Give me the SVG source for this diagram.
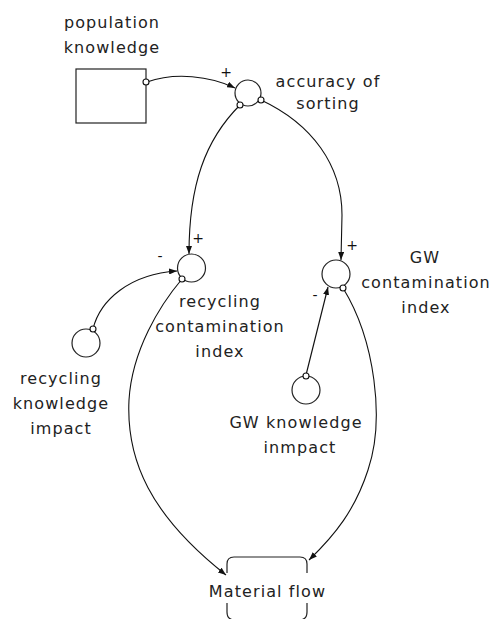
<svg xmlns="http://www.w3.org/2000/svg" width="495" height="619" viewBox="0 0 495 619">
  <defs>
    <marker id="arrow" viewBox="0 0 8 6" refX="8" refY="3" markerWidth="8" markerHeight="6" markerUnits="userSpaceOnUse" orient="auto">
      <path d="M0,0 L8,3 L0,6 z" fill="#111"/>
    </marker>
  </defs>
  <style>
    .lbl { font-family: "DejaVu Sans", "Liberation Sans", sans-serif; font-size: 16px; letter-spacing: 1.1px; fill: #222; text-anchor: middle; }
    .sign { font-family: "DejaVu Sans", "Liberation Sans", sans-serif; font-size: 14px; fill: #111; text-anchor: middle; }
    .shape { fill: #fff; stroke: #222; stroke-width: 1.2; }
    .link { fill: none; stroke: #111; stroke-width: 1.1; marker-end: url(#arrow); }
    .tap { fill: #fff; stroke: #111; stroke-width: 1.1; }
  </style>
  <rect width="495" height="619" fill="#fff"/>

  <!-- causal links -->
  <g id="connectors">
    <path class="link" d="M147,82 C175,72 210,76 235,88"/>
    <path class="link" d="M240,105 C205,140 189,185 189,254"/>
    <path class="link" d="M261,100 C312,124 342,165 342,215 L341,260"/>
    <path class="link" d="M93,329 C100,300 130,274 177,271"/>
    <path class="link" d="M306,375 L328,287"/>
    <path class="link" d="M182,279 C160,305 132,350 129,400 C126,460 150,515 226,575"/>
    <path class="link" d="M343,288 C375,340 385,420 368,470 C355,510 335,535 309,560"/>
    <text class="sign" x="226" y="77">+</text>
    <text class="sign" x="198" y="243">+</text>
    <text class="sign" x="160" y="261">-</text>
    <text class="sign" x="352" y="250">+</text>
    <text class="sign" x="315" y="300">-</text>
  </g>

  <g id="population-knowledge">
    <rect class="shape" x="76" y="69" width="70" height="54"/>
    <circle class="tap" cx="146" cy="82" r="3"/>
    <text class="lbl" x="112" y="28">population</text>
    <text class="lbl" x="112" y="53">knowledge</text>
  </g>

  <g id="accuracy-of-sorting">
    <circle class="shape" cx="248" cy="93" r="13"/>
    <circle class="tap" cx="240" cy="105" r="3"/>
    <circle class="tap" cx="261" cy="100" r="3"/>
    <text class="lbl" x="328" y="87">accuracy of</text>
    <text class="lbl" x="328" y="109">sorting</text>
  </g>

  <g id="recycling-contamination-index">
    <circle class="shape" cx="191.5" cy="268" r="14"/>
    <circle class="tap" cx="182" cy="279" r="3"/>
    <text class="lbl" x="220" y="307">recycling</text>
    <text class="lbl" x="220" y="332">contamination</text>
    <text class="lbl" x="220" y="357">index</text>
  </g>

  <g id="gw-contamination-index">
    <circle class="shape" cx="336" cy="274" r="14"/>
    <circle class="tap" cx="343" cy="288" r="3"/>
    <text class="lbl" x="425" y="263">GW</text>
    <text class="lbl" x="426" y="288">contamination</text>
    <text class="lbl" x="426" y="313">index</text>
  </g>

  <g id="recycling-knowledge-impact">
    <circle class="shape" cx="86" cy="343" r="14"/>
    <circle class="tap" cx="93" cy="329" r="3"/>
    <text class="lbl" x="61" y="384">recycling</text>
    <text class="lbl" x="61" y="409">knowledge</text>
    <text class="lbl" x="61" y="434">impact</text>
  </g>

  <g id="gw-knowledge-impact">
    <circle class="shape" cx="306" cy="390" r="14"/>
    <circle class="tap" cx="306" cy="376" r="3"/>
    <text class="lbl" x="296" y="428">GW knowledge</text>
    <text class="lbl" x="300" y="453">inmpact</text>
  </g>

  <g id="material-flow">
    <path fill="none" stroke="#222" stroke-width="1.2" d="M227,573 L227,564 Q227,557 234,557 L300,557 Q307,557 307,564 L307,573"/>
    <path fill="none" stroke="#222" stroke-width="1.2" d="M227,603 L227,612 Q227,620 235,620 L299,620 Q307,620 307,612 L307,603"/>
    <text class="lbl" x="267.5" y="597">Material flow</text>
  </g>
</svg>
